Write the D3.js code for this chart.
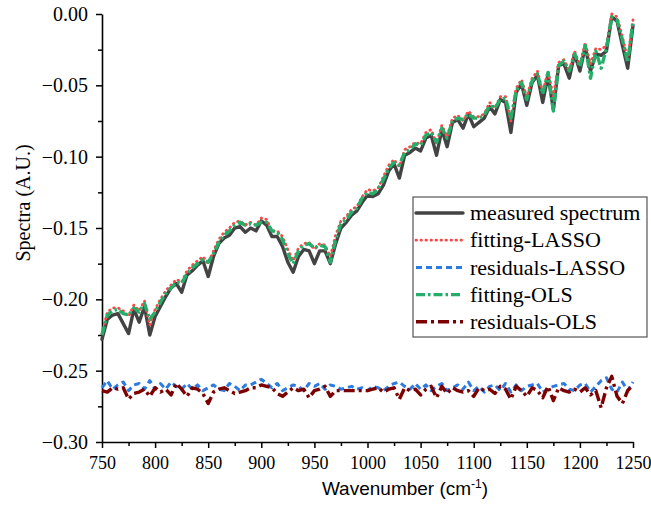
<!DOCTYPE html>
<html>
<head>
<meta charset="utf-8">
<script src="https://cdn.jsdelivr.net/npm/d3@7"></script>
</head>
<body style="margin:0;background:#fff">
<div class="container"></div>
<script>
var SERIF = "'Liberation Serif'";
var SANS = "'Liberation Sans'";

// wavenumber grid, cm-1
var wavenumbers = d3.range(750, 1251, 5);

var measured = [
  -0.228, -0.214, -0.211, -0.210, -0.217, -0.224, -0.207, -0.216, -0.205, -0.225,
  -0.212, -0.205, -0.198, -0.192, -0.189, -0.195, -0.183, -0.180, -0.176, -0.173,
  -0.184, -0.170, -0.161, -0.157, -0.155, -0.150, -0.149, -0.153, -0.150, -0.152,
  -0.145, -0.148, -0.156, -0.156, -0.163, -0.174, -0.181, -0.170, -0.165, -0.166,
  -0.175, -0.166, -0.166, -0.175, -0.161, -0.150, -0.146, -0.141, -0.138, -0.132,
  -0.127, -0.128, -0.126, -0.120, -0.110, -0.105, -0.115, -0.099, -0.097, -0.094,
  -0.096, -0.087, -0.085, -0.099, -0.081, -0.093, -0.076, -0.074, -0.080, -0.070,
  -0.079, -0.076, -0.073, -0.065, -0.070, -0.060, -0.062, -0.083, -0.055, -0.049,
  -0.064, -0.048, -0.043, -0.062, -0.043, -0.067, -0.036, -0.035, -0.045, -0.028,
  -0.040, -0.023, -0.040, -0.028, -0.029, -0.026, -0.002, -0.005, -0.022, -0.038,
  -0.008
];

var fitLasso = [
  -0.224, -0.209, -0.206, -0.206, -0.208, -0.212, -0.204, -0.208, -0.201, -0.218,
  -0.207, -0.200, -0.194, -0.190, -0.186, -0.188, -0.180, -0.176, -0.173, -0.170,
  -0.175, -0.166, -0.158, -0.153, -0.150, -0.146, -0.145, -0.148, -0.146, -0.148,
  -0.143, -0.144, -0.152, -0.152, -0.156, -0.165, -0.173, -0.164, -0.161, -0.160,
  -0.165, -0.161, -0.162, -0.170, -0.155, -0.145, -0.142, -0.137, -0.135, -0.128,
  -0.123, -0.124, -0.122, -0.114, -0.106, -0.102, -0.107, -0.095, -0.093, -0.090,
  -0.091, -0.083, -0.081, -0.091, -0.078, -0.086, -0.073, -0.071, -0.075, -0.068,
  -0.072, -0.072, -0.070, -0.062, -0.066, -0.058, -0.058, -0.075, -0.052, -0.046,
  -0.058, -0.045, -0.040, -0.055, -0.040, -0.058, -0.034, -0.032, -0.040, -0.026,
  -0.036, -0.020, -0.035, -0.024, -0.025, -0.022,  0.000, -0.002, -0.016, -0.032,
  -0.004
];

var resLasso = [
  -0.262, -0.257, -0.263, -0.260, -0.258, -0.264, -0.260, -0.259, -0.263, -0.257,
  -0.263, -0.259, -0.263, -0.258, -0.261, -0.263, -0.259, -0.263, -0.260, -0.264,
  -0.262, -0.260, -0.263, -0.264, -0.259, -0.261, -0.264, -0.260, -0.260, -0.258,
  -0.256, -0.259, -0.262, -0.259, -0.264, -0.262, -0.260, -0.261, -0.264, -0.259,
  -0.261, -0.259, -0.263, -0.260, -0.261, -0.263, -0.262, -0.261, -0.263, -0.262,
  -0.264, -0.261, -0.262, -0.264, -0.261, -0.259, -0.258, -0.261, -0.263, -0.259,
  -0.263, -0.260, -0.264, -0.261, -0.259, -0.264, -0.262, -0.260, -0.263, -0.258,
  -0.264, -0.261, -0.265, -0.261, -0.260, -0.264, -0.259, -0.265, -0.260, -0.264,
  -0.261, -0.260, -0.259, -0.265, -0.263, -0.261, -0.260, -0.259, -0.263, -0.264,
  -0.260, -0.259, -0.265, -0.261, -0.257, -0.255, -0.263, -0.265, -0.258, -0.264,
  -0.258
];

var fitOls = [
  -0.225, -0.211, -0.208, -0.207, -0.210, -0.211, -0.206, -0.209, -0.203, -0.214,
  -0.209, -0.202, -0.196, -0.192, -0.188, -0.189, -0.182, -0.178, -0.175, -0.172,
  -0.174, -0.168, -0.160, -0.155, -0.152, -0.148, -0.146, -0.148, -0.147, -0.148,
  -0.146, -0.146, -0.152, -0.153, -0.158, -0.168, -0.175, -0.166, -0.162, -0.161,
  -0.164, -0.162, -0.163, -0.174, -0.158, -0.147, -0.144, -0.139, -0.136, -0.129,
  -0.125, -0.126, -0.123, -0.116, -0.108, -0.104, -0.106, -0.097, -0.095, -0.091,
  -0.092, -0.085, -0.083, -0.090, -0.080, -0.087, -0.075, -0.073, -0.074, -0.070,
  -0.073, -0.073, -0.071, -0.064, -0.066, -0.060, -0.059, -0.073, -0.054, -0.048,
  -0.060, -0.047, -0.042, -0.056, -0.041, -0.068, -0.036, -0.033, -0.040, -0.028,
  -0.037, -0.022, -0.045, -0.026, -0.038, -0.024, -0.002, -0.004, -0.018, -0.034,
  -0.005
];

var resOls = [
  -0.264, -0.265, -0.262, -0.263, -0.262, -0.270, -0.266, -0.265, -0.263, -0.268,
  -0.262, -0.265, -0.263, -0.267, -0.259, -0.263, -0.268, -0.262, -0.263, -0.266,
  -0.273, -0.265, -0.263, -0.262, -0.264, -0.266, -0.265, -0.264, -0.262, -0.262,
  -0.260, -0.261, -0.262, -0.266, -0.268, -0.265, -0.262, -0.264, -0.263, -0.269,
  -0.264, -0.263, -0.261, -0.268, -0.264, -0.264, -0.264, -0.264, -0.264, -0.264,
  -0.264, -0.263, -0.262, -0.265, -0.263, -0.262, -0.270, -0.262, -0.264, -0.263,
  -0.267, -0.263, -0.261, -0.269, -0.261, -0.266, -0.262, -0.264, -0.265, -0.264,
  -0.268, -0.262, -0.264, -0.263, -0.266, -0.261, -0.263, -0.270, -0.261, -0.264,
  -0.268, -0.262, -0.264, -0.269, -0.261, -0.271, -0.262, -0.264, -0.265, -0.263,
  -0.265, -0.262, -0.267, -0.264, -0.276, -0.262, -0.254, -0.268, -0.273, -0.264,
  -0.260
];

var xTicks = [750, 800, 850, 900, 950, 1000, 1050, 1100, 1150, 1200, 1250];
var yTicks = [0.00, -0.05, -0.10, -0.15, -0.20, -0.25, -0.30];

var series = [
  { name: 'measured spectrum', values: measured, color: '#434343', width: 3.4, dash: null, cap: 'round' },
  { name: 'fitting-LASSO', values: fitLasso, color: '#ff4545', width: 2.8, dash: '0.5 4.5', cap: 'round' },
  { name: 'residuals-LASSO', values: resLasso, color: '#2b7be0', width: 3, dash: '6 4', cap: 'butt' },
  { name: 'fitting-OLS', values: fitOls, color: '#24ae69', width: 3.4, dash: '9 3 2.5 3', cap: 'butt' },
  { name: 'residuals-OLS', values: resOls, color: '#7d0000', width: 3.4, dash: '11 4 3 4', cap: 'butt' }
];

var width = 651, height = 516;
var margin = { left: 102, right: 18, top: 14, bottom: 74 };

var svg = d3.select('.container')
  .append('svg')
    .attr('width', width)
    .attr('height', height);

var x = d3.scaleLinear().domain([750, 1250]).range([margin.left, width - margin.right]);
var y = d3.scaleLinear().domain([-0.30, 0.00]).range([height - margin.bottom, margin.top]);

// minor ticks first, majors drawn over them
svg.append('g')
    .attr('transform', 'translate(0,' + y(-0.30) + ')')
    .call(d3.axisBottom(x).tickValues(d3.range(775, 1250, 50)).tickSize(4).tickFormat(''))
    .call(function(g) { g.select('.domain').remove(); g.selectAll('line').attr('stroke-width', 1.5); });

svg.append('g')
    .attr('transform', 'translate(' + x(750) + ',0)')
    .call(d3.axisLeft(y).tickValues(d3.range(-0.275, 0, 0.05)).tickSize(4).tickFormat(''))
    .call(function(g) { g.select('.domain').remove(); g.selectAll('line').attr('stroke-width', 1.5); });

var xAxis = svg.append('g')
    .attr('transform', 'translate(0,' + y(-0.30) + ')')
    .call(d3.axisBottom(x).tickValues(xTicks).tickSize(6).tickSizeOuter(0).tickPadding(8).tickFormat(d3.format('d')));
xAxis.attr('font-family', null).attr('font-size', null);
xAxis.selectAll('text')
    .style('font-family', SERIF).style('font-size', '18px').attr('fill', '#000');

var yAxis = svg.append('g')
    .attr('transform', 'translate(' + x(750) + ',0)')
    .call(d3.axisLeft(y).tickValues(yTicks).tickSize(6).tickSizeOuter(0).tickPadding(8).tickFormat(d3.format('.2f')));
yAxis.attr('font-family', null).attr('font-size', null);
yAxis.selectAll('text')
    .style('font-family', SERIF).style('font-size', '20px').attr('fill', '#000');

[xAxis, yAxis].forEach(function(g) {
  g.select('.domain').attr('stroke-width', 1.6);
  g.selectAll('line').attr('stroke-width', 1.5);
});

// ----------
// Curves

var line = d3.line()
  .x(function(d, i) { return x(wavenumbers[i]); })
  .y(function(d) { return y(d); });

svg.append('g')
  .selectAll('path')
  .data(series)
  .enter().append('path')
    .attr('fill', 'none')
    .attr('stroke', function(s) { return s.color; })
    .attr('stroke-width', function(s) { return s.width; })
    .attr('stroke-dasharray', function(s) { return s.dash; })
    .attr('stroke-linecap', function(s) { return s.cap; })
    .attr('stroke-linejoin', 'round')
    .attr('d', function(s) { return line(s.values); });

// ----------
// Labels and legend

svg.append('text')
    .attr('transform', 'translate(30,203) rotate(-90)')
    .attr('text-anchor', 'middle')
    .style('font-family', SERIF)
    .style('font-size', '20px')
    .text('Spectra (A.U.)');

var xTitle = svg.append('text')
    .attr('x', 405)
    .attr('y', 495)
    .attr('text-anchor', 'middle')
    .style('font-family', SANS)
    .style('font-size', '19px');
xTitle.append('tspan').text('Wavenumber (cm');
xTitle.append('tspan').style('font-size', '12px').attr('dy', -7).text('-1');
xTitle.append('tspan').attr('dy', 7).text(')');

var legend = svg.append('g').attr('transform', 'translate(413,197)');
legend.append('rect')
    .attr('width', 234)
    .attr('height', 140)
    .attr('fill', '#fff')
    .attr('stroke', '#555')
    .attr('stroke-width', 1.2);

var item = legend.selectAll('.item')
  .data(series)
  .enter().append('g')
    .attr('transform', function(s, i) { return 'translate(0,' + (16 + i * 27.2) + ')'; });

item.append('line')
    .attr('x1', 3).attr('x2', 50)
    .attr('stroke', function(s) { return s.color; })
    .attr('stroke-width', function(s) { return s.width; })
    .attr('stroke-dasharray', function(s) { return s.dash; })
    .attr('stroke-linecap', function(s) { return s.cap; });

item.append('text')
    .attr('x', 57)
    .attr('dy', '0.33em')
    .style('font-family', SERIF)
    .style('font-size', '22px')
    .text(function(s) { return s.name; });
</script>
</body>
</html>
